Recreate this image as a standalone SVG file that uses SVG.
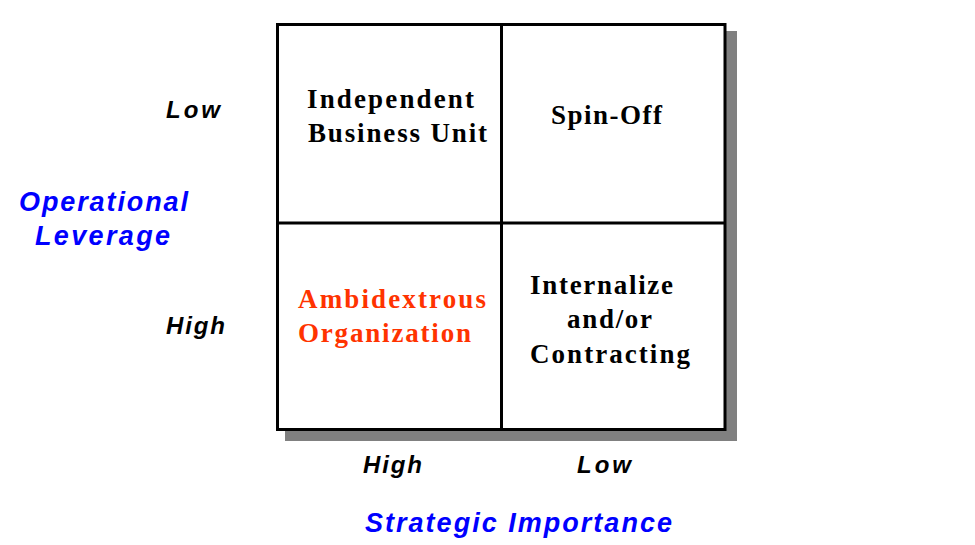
<svg xmlns="http://www.w3.org/2000/svg" width="975" height="545" viewBox="0 0 975 545">
<style>
.cell{font-family:"Liberation Serif","Times New Roman",serif;font-weight:bold;font-size:27px;fill:#000}
.red{fill:#FF3300}
.lvl{font-family:"Liberation Sans",Arial,sans-serif;font-weight:bold;font-style:italic;font-size:24px;fill:#000}
.axis{font-family:"Liberation Sans",Arial,sans-serif;font-weight:bold;font-style:italic;font-size:27px;fill:#0000FF}
.ln{stroke:#000;stroke-width:3;fill:none}
</style>
<rect width="975" height="545" fill="#fff"/>
<g id="shadow"><rect x="285" y="31" width="452" height="410" fill="#808080"/></g>
<g id="grid">
<rect x="277.5" y="24.5" width="447.5" height="405" fill="#fff" stroke="#000" stroke-width="3"/>
</g>
<g id="connectors">
<line x1="501.5" y1="24.5" x2="501.5" y2="429.5" class="ln"/>
<line x1="277.5" y1="223" x2="725" y2="223" class="ln"/>
</g>
<g id="cell-ibu">
<text class="cell" x="307" y="108" textLength="167" lengthAdjust="spacing">Independent</text>
<text class="cell" x="308" y="142" textLength="179" lengthAdjust="spacing">Business Unit</text>
</g>
<g id="cell-spinoff">
<text class="cell" x="551" y="124" textLength="111" lengthAdjust="spacing">Spin-Off</text>
</g>
<g id="cell-ambi">
<text class="cell red" x="298" y="308" textLength="188" lengthAdjust="spacing">Ambidextrous</text>
<text class="cell red" x="298" y="342" textLength="173" lengthAdjust="spacing">Organization</text>
</g>
<g id="cell-internalize">
<text class="cell" x="530" y="294" textLength="143" lengthAdjust="spacing">Internalize</text>
<text class="cell" x="567" y="328" textLength="85" lengthAdjust="spacing">and/or</text>
<text class="cell" x="530" y="363" textLength="160" lengthAdjust="spacing">Contracting</text>
</g>
<g id="labels">
<text class="lvl" x="166" y="118" textLength="54" lengthAdjust="spacing">Low</text>
<text class="lvl" x="166" y="334" textLength="59" lengthAdjust="spacing">High</text>
<text class="lvl" x="363" y="473" textLength="59" lengthAdjust="spacing">High</text>
<text class="lvl" x="577" y="473" textLength="54" lengthAdjust="spacing">Low</text>
<text class="axis" x="19" y="211" textLength="169" lengthAdjust="spacing">Operational</text>
<text class="axis" x="35" y="245" textLength="135" lengthAdjust="spacing">Leverage</text>
<text class="axis" x="365" y="532" textLength="307" lengthAdjust="spacing">Strategic Importance</text>
</g>
</svg>
